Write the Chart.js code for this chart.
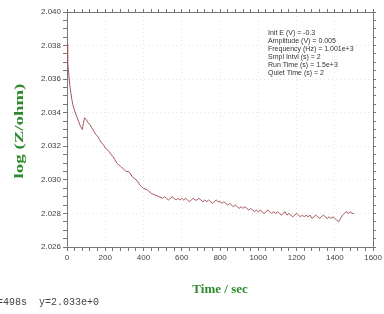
<!DOCTYPE html>
<html lang="en">
<head>
  <meta charset="UTF-8">
  <title>Impedance - Time</title>
  <script src="https://cdn.jsdelivr.net/npm/chart.js"></script>
  <style>
    body {
      margin: 0;
      background: white;
    }

    .wrap {
      position: relative;
      width: 384px;
      height: 314px;
      overflow: hidden;
    }

    .cursor {
      position: absolute;
      left: -9px;
      top: 297px;
      font-family: "Liberation Mono", "DejaVu Sans Mono", monospace;
      font-size: 10px;
      color: #444;
      white-space: pre;
    }
  </style>
</head>
<body>
  <div class="wrap">
    <canvas id="impChart" width="384" height="314"></canvas>
    <div class="cursor">x=498s  y=2.033e+0</div>
  </div>

  <script>
    // time (s) and log(Z/ohm)
    const timeSec = [
      0, 2, 5, 10, 15, 20, 25, 30, 40, 50, 60, 70, 80, 86, 92, 100, 110, 120, 130, 140,
      150, 160, 170, 180, 190, 200, 210, 220, 230, 240, 250, 260, 270, 280, 290, 300,
      310, 320, 330, 340, 350, 360, 370, 380, 390, 400, 420, 440, 460, 480,
      500, 510, 520, 530, 540, 550, 560, 570, 580, 590, 600, 610, 620, 630, 640, 650,
      660, 670, 680, 690, 700, 710, 720, 730, 740, 750, 760, 770, 780, 790, 800, 810,
      820, 830, 840, 850, 860, 870, 880, 890, 900, 910, 920, 930, 940, 950, 960, 970,
      980, 990, 1000, 1010, 1020, 1030, 1040, 1050, 1060, 1070, 1080, 1090, 1100, 1110,
      1120, 1130, 1140, 1150, 1160, 1170, 1180, 1190, 1200, 1210, 1220, 1230, 1240, 1250,
      1260, 1270, 1280, 1290, 1300, 1310, 1320, 1330, 1340, 1350, 1360, 1370, 1380, 1390,
      1400, 1410, 1420, 1430, 1440, 1450, 1460, 1470, 1480, 1490, 1500
    ];
    const logZ = [
      2.0381, 2.0376, 2.0370, 2.0362, 2.0356, 2.0352, 2.0348, 2.0345, 2.0341, 2.0338,
      2.0335, 2.0332, 2.0330, 2.0334, 2.0337, 2.0336, 2.0334, 2.0333, 2.0331, 2.0329,
      2.0327, 2.0326, 2.0324, 2.0322, 2.0321, 2.0319, 2.0318, 2.0317, 2.0315, 2.0314,
      2.0312, 2.0310, 2.0309, 2.0308, 2.0307, 2.0306, 2.0305, 2.0305, 2.0304, 2.0302,
      2.0301, 2.0300, 2.0299, 2.0297, 2.0296, 2.0295, 2.0294, 2.0292, 2.0291, 2.0290,
      2.0289, 2.0290, 2.0289, 2.0288, 2.0289, 2.0290, 2.0289, 2.0288, 2.0289, 2.0288,
      2.0289, 2.0288, 2.0289, 2.0288, 2.0287, 2.0288, 2.0289, 2.0288, 2.0288, 2.0289,
      2.0288, 2.0287, 2.0288, 2.0287, 2.0288, 2.0287, 2.0286, 2.0287, 2.0288, 2.0287,
      2.0287, 2.0286, 2.0287, 2.0286, 2.0285, 2.0286, 2.0285, 2.0284, 2.0285, 2.0284,
      2.0283, 2.0284, 2.0283, 2.0284, 2.0283, 2.0282, 2.0283, 2.0282, 2.0281, 2.0282,
      2.0281, 2.0282, 2.0281, 2.0280, 2.0281, 2.0282, 2.0281, 2.0280, 2.0281, 2.0280,
      2.0281, 2.0280, 2.0279, 2.0280, 2.0281, 2.0279, 2.0280, 2.0279, 2.0278, 2.0279,
      2.0280, 2.0279, 2.0278, 2.0279, 2.0278, 2.0279, 2.0278, 2.0279, 2.0277, 2.0278,
      2.0279, 2.0278, 2.0277, 2.0278, 2.0279, 2.0278, 2.0277, 2.0278, 2.0277, 2.0278,
      2.0277, 2.0276, 2.0275, 2.0277, 2.0279, 2.0280, 2.0281, 2.0280, 2.0281, 2.0280,
      2.0280
    ];

    const xTickLabels = ['0', '200', '400', '600', '800', '1000', '1200', '1400', '1600'];
    const yTickLabels = ['2.026', '2.028', '2.030', '2.032', '2.034', '2.036', '2.038', '2.040'];

    const runParams = [
      'Init E (V) = -0.3',
      'Amplitude (V) = 0.005',
      'Frequency (Hz) = 1.001e+3',
      'Smpl Intvl (s) = 2',
      'Run Time (s) = 1.5e+3',
      'Quiet Time (s) = 2'
    ];

    const tickFont = { family: '"Liberation Sans Narrow", "Liberation Sans", Arial', size: 8 };
    const titleFont = { family: '"Liberation Serif", "Times New Roman", serif', size: 13, weight: 'bold' };
    const green = '#2f8a2f';
    const gridColor = '#e4e4e4';

    const isMajorX = v => Math.round(v) % 200 === 0;
    const isMajorY = v => Math.round(v * 10000) % 20 === 0;

    // run settings block + the stretched y title
    const extraText = {
      id: 'extraText',
      afterDraw(chart) {
        const ctx = chart.ctx;
        const area = chart.chartArea;
        ctx.save();
        ctx.font = '7px "Liberation Sans Narrow", "Liberation Sans", Arial';
        ctx.fillStyle = '#333';
        ctx.textBaseline = 'middle';
        runParams.forEach((line, i) => {
          ctx.fillText(line, area.left + 201, area.top + 21 + i * 8);
        });
        ctx.restore();

        ctx.save();
        ctx.translate(20, 131);
        ctx.rotate(-Math.PI / 2);
        ctx.scale(1.45, 1);
        ctx.font = 'bold 13px "Liberation Serif", "Times New Roman", serif';
        ctx.fillStyle = green;
        ctx.textAlign = 'center';
        ctx.textBaseline = 'middle';
        ctx.fillText('log (Z/ohm)', 0, 0);
        ctx.restore();
      }
    };

    const ctx = document.getElementById('impChart').getContext('2d');

    new Chart(ctx, {
      type: 'line',
      data: {
        datasets: [{
          label: 'log Z',
          data: timeSec.map((t, i) => ({ x: t, y: logZ[i] })),
          borderColor: '#a4555a',
          borderWidth: 1,
          pointRadius: 0,
          tension: 0,
          fill: false
        }]
      },
      options: {
        responsive: false,
        animation: false,
        layout: { padding: 0 },
        plugins: {
          legend: { display: false },
          tooltip: { enabled: false }
        },
        scales: {
          x: {
            type: 'linear',
            position: 'bottom',
            min: 0,
            max: 1600,
            afterFit: s => { s.height = 67; },
            ticks: {
              stepSize: 40,
              autoSkip: false,
              maxRotation: 0,
              padding: 2,
              color: '#444',
              font: tickFont,
              callback: v => isMajorX(v) ? String(Math.round(v)) : ''
            },
            grid: {
              color: c => c.tick && isMajorX(c.tick.value) ? gridColor : 'rgba(0,0,0,0)',
              tickColor: '#777',
              tickLength: 4
            },
            border: { display: true, color: '#777', dash: [1, 3] },
            title: {
              display: true,
              text: 'Time / sec',
              color: green,
              font: titleFont,
              padding: { top: 0, bottom: 17 }
            }
          },
          x2: {
            type: 'linear',
            position: 'top',
            min: 0,
            max: 1600,
            afterFit: s => { s.height = 12; },
            ticks: { display: false, stepSize: 40, autoSkip: false },
            grid: { drawOnChartArea: false, tickColor: '#777', tickLength: 3 },
            border: { display: true, color: '#777' }
          },
          y: {
            type: 'linear',
            position: 'left',
            min: 2.026,
            max: 2.040,
            afterFit: s => { s.width = 67; },
            ticks: {
              stepSize: 0.0005,
              autoSkip: false,
              padding: 2,
              color: '#444',
              font: tickFont,
              callback: v => isMajorY(v) ? v.toFixed(3) : ''
            },
            grid: {
              color: c => c.tick && isMajorY(c.tick.value) ? gridColor : 'rgba(0,0,0,0)',
              tickColor: '#777',
              tickLength: 4
            },
            border: { display: true, color: '#777', dash: [1, 3] },
            title: { display: false }
          },
          y2: {
            type: 'linear',
            position: 'right',
            min: 2.026,
            max: 2.040,
            afterFit: s => { s.width = 7; },
            ticks: { display: false, stepSize: 0.0005, autoSkip: false },
            grid: { drawOnChartArea: false, tickColor: '#777', tickLength: 3 },
            border: { display: true, color: '#777' }
          }
        }
      },
      plugins: [extraText]
    });
  </script>
</body>
</html>
